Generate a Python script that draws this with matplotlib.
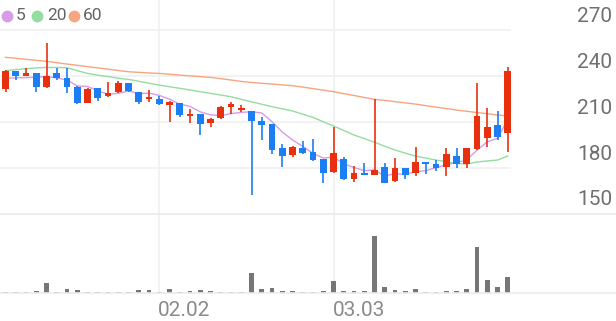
import numpy as np
import matplotlib
matplotlib.use("Agg")
import matplotlib.pyplot as plt
from matplotlib.lines import Line2D

plt.rcParams['font.family'] = ['Roboto', 'DejaVu Sans']

# daily candles (price)
opens = [231.3, 243.3, 240.0, 241.7, 232.6, 241.7, 238.9, 233.0, 222.6, 232.0,
         227.2, 229.4, 235.2, 229.4, 225.0, 225.2, 221.1, 222.2, 213.9, 215.0,
         209.2, 212.4, 220.0, 218.0, 217.2, 210.9, 208.5, 192.8, 188.3, 193.3,
         190.7, 185.9, 177.4, 185.9, 172.6, 177.0, 175.4, 180.9, 171.5, 179.8,
         176.5, 183.7, 182.6, 180.5, 188.0, 182.6, 192.2, 199.8, 208.0, 202.6]
highs = [244.0, 243.6, 245.0, 242.0, 261.3, 245.0, 245.0, 233.5, 232.0, 232.3,
         235.9, 237.0, 235.5, 229.8, 230.9, 227.0, 223.9, 222.5, 218.5, 215.3,
         212.3, 220.3, 223.3, 221.1, 217.5, 213.0, 208.8, 195.5, 194.3, 197.8,
         198.7, 186.2, 206.5, 187.4, 181.5, 183.5, 224.8, 183.5, 186.3, 180.1,
         193.9, 184.0, 185.2, 192.8, 192.8, 193.2, 235.2, 218.9, 217.4, 245.7]
lows = [229.8, 237.4, 239.8, 229.8, 232.0, 237.4, 229.0, 221.7, 222.3, 223.7,
        226.5, 228.7, 229.4, 221.7, 223.0, 221.3, 210.0, 213.5, 209.2, 201.5,
        207.0, 212.2, 215.2, 216.7, 162.4, 198.3, 189.0, 180.9, 187.0, 189.1,
        184.8, 170.4, 177.0, 172.4, 170.7, 175.2, 175.2, 170.0, 171.0, 172.6,
        174.8, 175.9, 178.0, 174.8, 179.8, 180.2, 191.7, 193.9, 198.3, 190.6]
closes = [243.5, 240.0, 241.7, 233.0, 240.2, 238.9, 233.0, 222.6, 231.3, 225.5,
          228.7, 235.2, 230.4, 223.3, 226.5, 221.5, 222.8, 214.6, 215.4, 208.5,
          212.0, 220.0, 221.5, 219.3, 210.9, 207.8, 191.7, 187.8, 193.5, 189.6,
          185.2, 176.5, 190.0, 172.6, 177.0, 175.4, 178.7, 170.4, 179.8, 175.4,
          183.7, 182.4, 179.8, 189.0, 182.6, 192.8, 213.9, 207.0, 200.4, 243.5]

# moving averages as drawn
ma5 = [238.5, 238.8, 239.0, 239.2, 239.7, 238.8, 237.4, 233.5, 233.2, 230.3,
       228.2, 228.7, 230.2, 228.6, 228.8, 227.4, 224.9, 221.7, 220.2, 216.6,
       214.7, 214.1, 215.5, 216.3, 216.7, 215.9, 210.2, 203.5, 198.3, 194.1,
       189.6, 186.5, 187.0, 182.8, 180.3, 178.3, 178.7, 174.8, 176.3, 175.9,
       177.6, 178.3, 180.2, 182.1, 183.5, 185.3, 191.6, 197.1, 199.3, 211.5]
ma20 = [243.5, 244.2, 244.8, 245.3, 245.6, 245.6, 245.4, 243.5, 241.7, 240.6,
        239.6, 238.6, 237.8, 236.6, 235.3, 234.1, 233.0, 232.0, 230.9, 229.8,
        228.7, 227.6, 226.5, 224.8, 223.2, 221.6, 220.0, 218.6, 217.2, 215.1,
        213.0, 210.2, 207.4, 204.5, 201.5, 199.2, 196.8, 194.2, 191.7, 189.7,
        187.8, 186.5, 185.2, 184.1, 183.0, 182.6, 183.9, 184.6, 185.2, 187.8]
ma60 = [252.2, 251.6, 250.9, 250.2, 249.6, 248.7, 247.8, 247.0, 246.1, 245.3,
        244.5, 243.6, 242.8, 242.4, 242.0, 241.7, 241.2, 240.6, 240.1, 239.6,
        239.1, 238.3, 237.4, 236.5, 235.8, 235.3, 234.8, 234.2, 233.7, 232.8,
        231.8, 230.8, 229.8, 228.5, 227.3, 226.0, 224.8, 224.1, 223.3, 222.5,
        221.7, 220.7, 219.7, 218.8, 217.8, 217.0, 216.2, 215.4, 214.6, 213.9]

volumes = [17, 13, 13, 27, 100, 17, 43, 33, 17, 17,
           17, 17, 17, 33, 30, 17, 43, 17, 27, 30,
           27, 17, 17, 17, 200, 40, 50, 23, 27, 15,
           13, 27, 123, 23, 20, 20, 577, 60, 33, 20,
           40, 17, 10, 27, 27, 40, 460, 133, 60, 163]

price_ticks = [270, 240, 210, 180, 150]
date_idx = [15, 32]
date_labels = ['02.02', '03.03']

RED = '#e8300f'
BLUE = '#1b7ef2'
C5, C20, C60 = '#d69ce6', '#95dca0', '#f7a580'
GRID = '#f0f0f0'

W, H = 616, 321
fig = plt.figure(figsize=(W / 100, H / 100), dpi=100)

def box(left, top, right, bottom):
    return [left / W, 1 - bottom / H, (right - left) / W, (bottom - top) / H]

x = np.arange(len(closes))
xlim = (-5.5 / 10.25, (511 - 5.5) / 10.25)

# price panel
ax = fig.add_axes(box(0, 0, 511, 214))
ax.set_xlim(*xlim)
ax.set_ylim(150, 289.6)
ax.axis('off')
for t in price_ticks:
    ax.axhline(t, color=GRID, lw=1.2, zorder=0)
    ax.annotate(str(t), xy=(1, t), xycoords=('axes fraction', 'data'),
                xytext=(101, 14), textcoords='offset pixels',
                ha='right', va='center', fontsize=15, color='#707070',
                annotation_clip=False)

ax.plot(x, ma60, color=C60, lw=1.0, zorder=2)
ax.plot(x, ma20, color=C20, lw=1.0, zorder=2)
ax.plot(x, ma5, color=C5, lw=1.0, zorder=2)

o = np.array(opens)
c = np.array(closes)
up = c >= o
cols = [RED if u else BLUE for u in up]
ax.vlines(x, lows, highs, colors=cols, lw=1.2, zorder=3)
body_h = np.maximum(np.abs(c - o), 1.0)
ax.bar(x, body_h, bottom=np.minimum(o, c), width=0.66, color=cols, zorder=4)

# volume panel
vax = fig.add_axes(box(0, 214, 511, 293.3))
vax.set_xlim(*xlim)
vax.set_ylim(0, 793)
vax.axis('off')
vax.bar(x, volumes, width=0.45, color='#767676', zorder=3)

# vertical date grid lines through both panels + labels
for i, lbl in zip(date_idx, date_labels):
    ax.axvline(i, color=GRID, lw=1.2, zorder=0)
    vax.axvline(i, color=GRID, lw=1.2, zorder=0)
    vax.annotate(lbl, xy=(i, 0), xycoords='data', xytext=(-1, -17),
                 textcoords='offset pixels', ha='left', va='center',
                 fontsize=15, color='#8a8a8a', annotation_clip=False)

# full-width separators
for yy in (214, 293.3):
    fig.add_artist(Line2D([0, 1], [1 - yy / H, 1 - yy / H],
                          transform=fig.transFigure, color='#ebebeb', lw=1.2))

# legend
for cx, tx, col, lbl in [(7, 16, C5, '5'), (37, 47, C20, '20'), (74, 83, C60, '60')]:
    fig.add_artist(Line2D([cx / W], [1 - 15.7 / H], transform=fig.transFigure,
                          marker='o', markersize=7.5, color=col, lw=0))
    fig.text(tx / W, 1 - 15.7 / H, lbl, ha='left', va='center',
             fontsize=12.5, color='#666666')

fig.savefig('out.png', dpi=100)
